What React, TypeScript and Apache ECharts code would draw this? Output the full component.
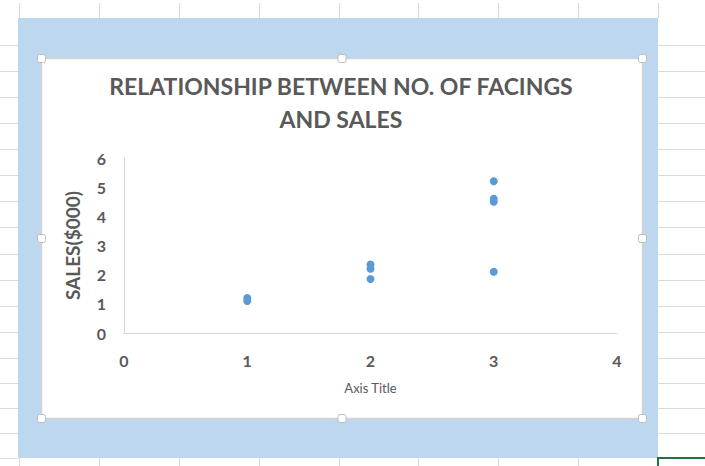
import React, { useEffect, useRef } from "react";
import * as echarts from "echarts";

const facings: number[] = [1, 1, 2, 2, 2, 3, 3, 3, 3];
const sales: number[] = [1.2, 1.1, 2.35, 2.2, 1.85, 5.2, 4.6, 4.5, 2.1];
const xTicks: number[] = [0, 1, 2, 3, 4];
const yTicks: number[] = [0, 1, 2, 3, 4, 5, 6];
const titleLines: string[] = ["RELATIONSHIP BETWEEN NO. OF FACINGS", "AND SALES"];

const rowLines: number[] = [45, 71, 97, 123, 149, 175, 201, 227, 254, 280, 306, 332, 358, 383, 408, 433, 458];
const colLines: number[] = [19, 99, 179, 259, 339, 418, 498, 578, 658];

export default function App() {
  const ref = useRef<HTMLDivElement>(null);
  useEffect(() => {
    if (!ref.current) return;
    const chart = echarts.init(ref.current, undefined, { renderer: "svg" });
    const gridColor = "#dadada";
    const elements: any[] = [];
    rowLines.forEach((y) => {
      elements.push({ type: "line", z: 0, shape: { x1: 0, y1: y + 0.5, x2: 18, y2: y + 0.5 }, style: { stroke: gridColor, lineWidth: 1 } });
      elements.push({ type: "line", z: 0, shape: { x1: 658, y1: y + 0.5, x2: 705, y2: y + 0.5 }, style: { stroke: gridColor, lineWidth: 1 } });
    });
    colLines.forEach((x) => {
      elements.push({ type: "line", z: 0, shape: { x1: x + 0.5, y1: 3, x2: x + 0.5, y2: 18 }, style: { stroke: gridColor, lineWidth: 1 } });
      elements.push({ type: "line", z: 0, shape: { x1: x + 0.5, y1: 458, x2: x + 0.5, y2: 466 }, style: { stroke: gridColor, lineWidth: 1 } });
    });
    elements.push({ type: "rect", z: 1, shape: { x: 18, y: 18, width: 640, height: 440 }, style: { fill: "#BDD7EE" } });
    elements.push({ type: "rect", z: 2, shape: { x: 41.5, y: 58.5, width: 601, height: 360 }, style: { fill: "#ffffff", stroke: "#d4d4d4", lineWidth: 1.5 } });
    elements.push({ type: "polyline", z: 2, shape: { points: [[705, 458], [658, 458], [658, 466]] }, style: { stroke: "#217346", lineWidth: 2, fill: "none" } });
    const hx = [41.5, 342, 642.5];
    const hy = [58.5, 238.5, 418.5];
    hx.forEach((x, i) => {
      hy.forEach((y, j) => {
        if (i === 1 && j === 1) return;
        elements.push({ type: "rect", z: 3, shape: { x: x - 4, y: y - 4, width: 8, height: 8, r: 2 }, style: { fill: "#ffffff", stroke: "#bdbdbd", lineWidth: 1 } });
      });
    });
    elements.push({
      type: "text", z: 4, x: 341, y: 69,
      style: {
        text: titleLines.join("\n"), fill: "#595959", font: "bold 23px Lato, 'Open Sans', sans-serif",
        textAlign: "center", lineHeight: 33,
      },
    });

    chart.setOption({
      animation: false,
      graphic: { elements },
      grid: { left: 124, right: 88, top: 158, bottom: 133, containLabel: false },
      xAxis: {
        type: "value", min: xTicks[0], max: xTicks[xTicks.length - 1], interval: 1, z: 5,
        name: "Axis Title", nameLocation: "middle", nameGap: 48,
        nameTextStyle: { color: "#595959", fontSize: 13, fontFamily: "Lato, sans-serif" },
        axisLine: { show: true, lineStyle: { color: "#d9d9d9", width: 1 } },
        axisTick: { show: false }, splitLine: { show: false },
        axisLabel: { color: "#595959", fontSize: 16, fontWeight: "bold", fontFamily: "Lato, sans-serif", margin: 19 },
      },
      yAxis: {
        type: "value", min: yTicks[0], max: yTicks[yTicks.length - 1], interval: 1, z: 5,
        name: "SALES($000)", nameLocation: "middle", nameGap: 42,
        nameTextStyle: { color: "#595959", fontSize: 19, fontWeight: "bold", fontFamily: "Lato, sans-serif" },
        axisLine: { show: true, lineStyle: { color: "#d9d9d9", width: 1 } },
        axisTick: { show: false }, splitLine: { show: false },
        axisLabel: { color: "#595959", fontSize: 16, fontWeight: "bold", fontFamily: "Lato, sans-serif", margin: 18 },
      },
      series: [
        {
          type: "scatter", z: 6, symbolSize: 8,
          itemStyle: { color: "#5B9BD5", opacity: 1 },
          data: facings.map((f, i) => [f, sales[i]]),
        },
      ],
    });
    return () => chart.dispose();
  }, []);
  return <div ref={ref} style={{ position: "absolute", left: 0, top: 0, width: 705, height: 466, background: "#ffffff" }} />;
}
